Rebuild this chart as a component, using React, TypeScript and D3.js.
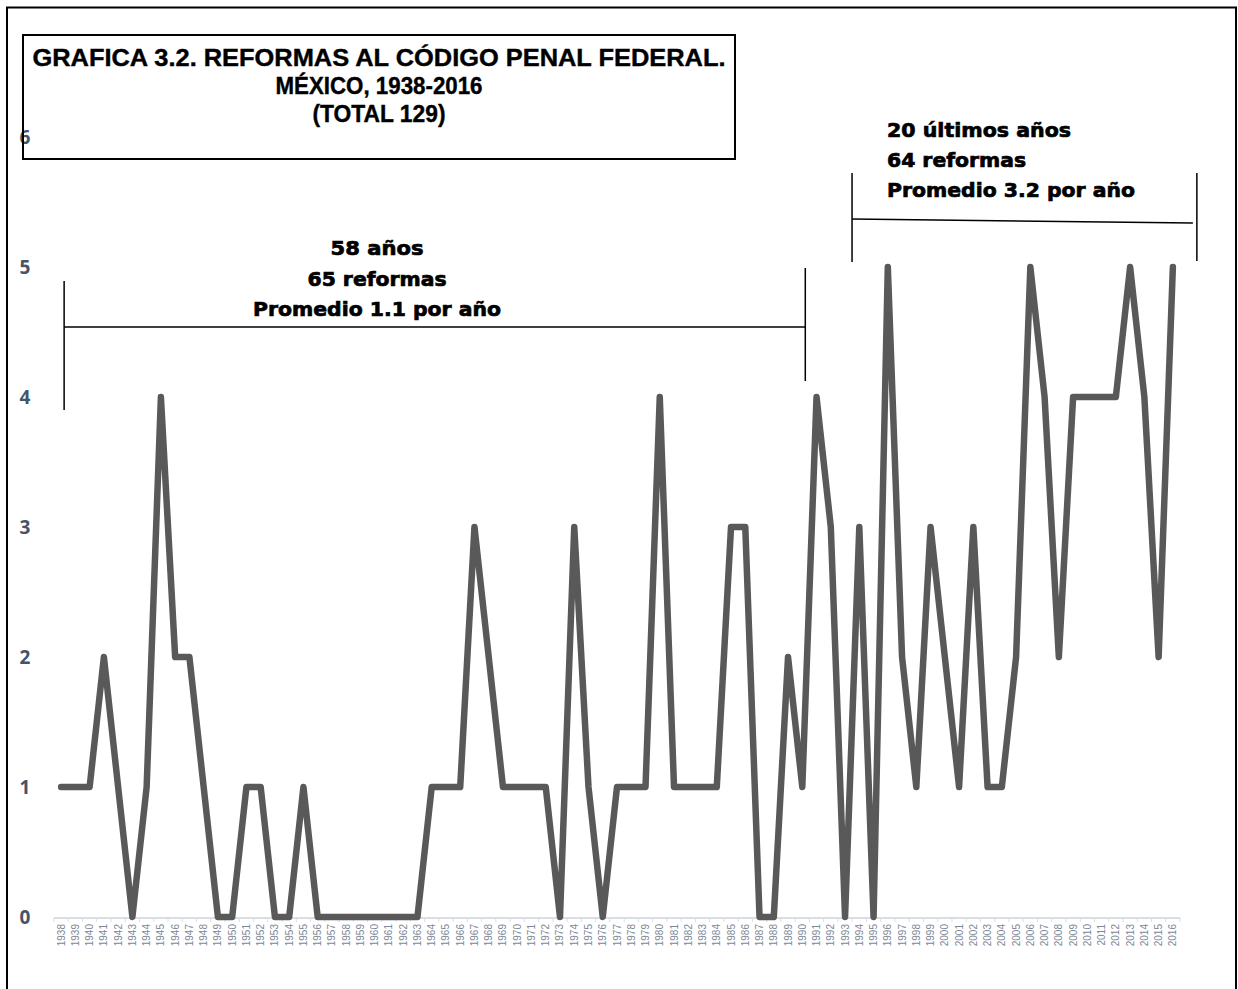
import React from "react";
import * as d3 from "d3";

// Reforms to the Federal Penal Code per year, 1938–2016
const years: string[] = [
  "1938", "1939", "1940", "1941", "1942", "1943", "1944", "1945", "1946", "1947",
  "1948", "1949", "1950", "1951", "1952", "1953", "1954", "1955", "1956", "1957",
  "1958", "1959", "1960", "1961", "1962", "1963", "1964", "1965", "1966", "1967",
  "1968", "1969", "1970", "1971", "1972", "1973", "1974", "1975", "1976", "1977",
  "1978", "1979", "1980", "1981", "1982", "1983", "1984", "1985", "1986", "1987",
  "1988", "1989", "1990", "1991", "1992", "1993", "1994", "1995", "1996", "1997",
  "1998", "1999", "2000", "2001", "2002", "2003", "2004", "2005", "2006", "2007",
  "2008", "2009", "2010", "2011", "2012", "2013", "2014", "2015", "2016",
];

const reforms: number[] = [
  1, 1, 1, 2, 1, 0, 1, 4, 2, 2,
  1, 0, 0, 1, 1, 0, 0, 1, 0, 0,
  0, 0, 0, 0, 0, 0, 1, 1, 1, 3,
  2, 1, 1, 1, 1, 0, 3, 1, 0, 1,
  1, 1, 4, 1, 1, 1, 1, 3, 3, 0,
  0, 2, 1, 4, 3, 0, 3, 0, 5, 2,
  1, 3, 2, 1, 3, 1, 1, 2, 5, 4,
  2, 4, 4, 4, 4, 5, 4, 2, 5,
];

const yTicks: number[] = [0, 1, 2, 3, 4, 5, 6];

const titleLines: string[] = [
  "GRAFICA 3.2. REFORMAS AL CÓDIGO PENAL FEDERAL.",
  "MÉXICO, 1938-2016",
  "(TOTAL 129)",
];

const firstPeriodLines: string[] = ["58 años", "65 reformas", "Promedio 1.1 por año"];
const lastPeriodLines: string[] = ["20 últimos años", "64 reformas", "Promedio 3.2 por año"];

const W = 1238;
const H = 989;

export default function App() {
  const x = d3.scaleBand<string>().domain(years).range([54, 1180]).padding(0);
  const cx = (yr: string) => (x(yr) ?? 0) + x.bandwidth() / 2;
  const y = d3.scaleLinear().domain([0, 6]).range([917, 137]);

  const line = d3
    .line<number>()
    .x((_, i) => cx(years[i]))
    .y((d) => y(d));

  const axisColor = "#D9DEE5";
  const labelColor = "#7C8797";
  const yLabelColor = "#44546A";

  const titleFont = "'Liberation Sans Narrow', 'Liberation Sans', Arial, sans-serif";
  const heavyFont = "'DejaVu Sans', 'Liberation Sans', Arial, sans-serif";

  // bracket geometry for the two periods
  const lb1 = cx("1938") + 3;
  const lb2 = cx("1990") + 3;
  const rb1 = cx("1993") + 7;
  const rb2 = cx("2016") + 24;

  const titleWidths = [693, 207, 133];
  const firstWidths = [93, 139, 248];
  const lastWidths = [184, 139, 248];

  return (
    <svg
      width={W}
      height={H}
      style={{ position: "absolute", left: 0, top: 0, background: "#fff" }}
    >
      <rect x={0} y={0} width={W} height={H} fill="#fff" />
      {/* outer frame */}
      <path d={`M7,${H} V7.5 H1236 V${H}`} fill="none" stroke="#000" strokeWidth={2} />

      {/* y axis labels */}
      {yTicks.map((t) => (
        <text
          key={t}
          x={25}
          y={y(t)}
          dy="0.36em"
          textAnchor="middle"
          fontFamily="'Open Sans', 'Liberation Sans', Arial, sans-serif"
          fontWeight="bold"
          fontSize={19}
          fill={yLabelColor}
        >
          {t}
        </text>
      ))}

      {/* x axis */}
      <line x1={54} x2={1180} y1={918} y2={918} stroke={axisColor} strokeWidth={2} />
      {years.map((yr) => (
        <line
          key={"t" + yr}
          x1={x(yr)}
          x2={x(yr)}
          y1={918}
          y2={922}
          stroke={axisColor}
          strokeWidth={1}
        />
      ))}
      <line x1={1180} x2={1180} y1={918} y2={922} stroke={axisColor} strokeWidth={1} />
      {years.map((yr) => (
        <text
          key={"l" + yr}
          transform={`translate(${cx(yr)},924) rotate(-90)`}
          textAnchor="end"
          dy="0.35em"
          fontFamily="'Liberation Sans', Arial, sans-serif"
          fontSize={10}
          fill={labelColor}
        >
          {yr}
        </text>
      ))}

      {/* series line */}
      <path
        d={line(reforms) ?? ""}
        fill="none"
        stroke="#595959"
        strokeWidth={6.5}
        strokeLinejoin="round"
        strokeLinecap="round"
      />

      {/* title box */}
      <rect x={23} y={35} width={712} height={124} fill="none" stroke="#000" strokeWidth={2} />
      {titleLines.map((t, i) => (
        <text
          key={t}
          x={379}
          y={66 + i * 28}
          textAnchor="middle"
          fontFamily={titleFont}
          fontWeight="bold"
          fontSize={24}
          fill="#000"
          stroke="#000"
          strokeWidth={0.4}
          textLength={titleWidths[i]}
          lengthAdjust="spacingAndGlyphs"
        >
          {t}
        </text>
      ))}

      {/* first period bracket */}
      <line x1={lb1} x2={lb1} y1={281} y2={410} stroke="#000" strokeWidth={1.5} />
      <line x1={lb1} x2={lb2} y1={327} y2={327} stroke="#000" strokeWidth={1.5} />
      <line x1={lb2} x2={lb2} y1={268} y2={381} stroke="#000" strokeWidth={1.5} />
      {firstPeriodLines.map((t, i) => (
        <text
          key={t}
          x={377}
          y={255 + i * 30.5}
          textAnchor="middle"
          fontFamily={heavyFont}
          fontWeight="bold"
          fontSize={20}
          fill="#000"
          stroke="#000"
          strokeWidth={0.7}
          textLength={firstWidths[i]}
          lengthAdjust="spacingAndGlyphs"
        >
          {t}
        </text>
      ))}

      {/* last period bracket */}
      <line x1={rb1} x2={rb1} y1={173} y2={262} stroke="#000" strokeWidth={1.5} />
      <line x1={rb1} x2={rb2 - 4} y1={219} y2={223} stroke="#000" strokeWidth={1.5} />
      <line x1={rb2} x2={rb2} y1={173} y2={261} stroke="#000" strokeWidth={1.5} />
      {lastPeriodLines.map((t, i) => (
        <text
          key={t}
          x={887}
          y={137 + i * 30}
          textAnchor="start"
          fontFamily={heavyFont}
          fontWeight="bold"
          fontSize={20}
          fill="#000"
          stroke="#000"
          strokeWidth={0.7}
          textLength={lastWidths[i]}
          lengthAdjust="spacingAndGlyphs"
        >
          {t}
        </text>
      ))}
    </svg>
  );
}
